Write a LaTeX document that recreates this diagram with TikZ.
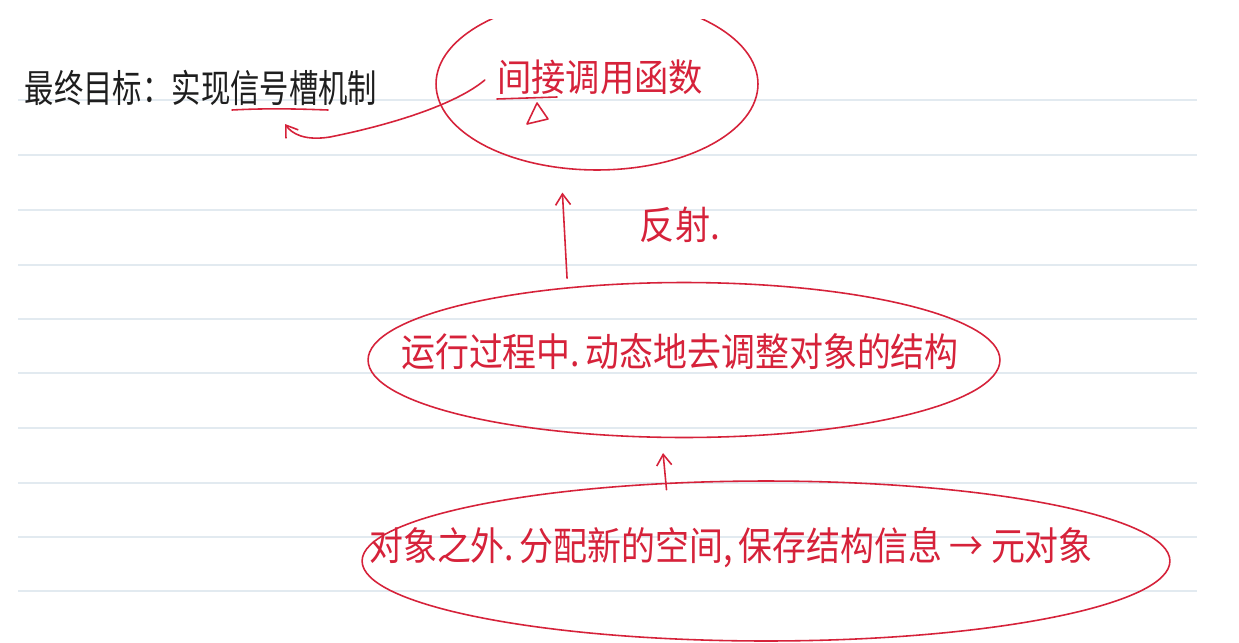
\documentclass[tikz,border=0pt]{standalone}
\usepackage{fontspec}
\newfontfamily\cjk{Noto Sans CJK SC}
\usetikzlibrary{arrows.meta,shapes.geometric}
\definecolor{ink}{RGB}{214,34,58}
\definecolor{pen}{RGB}{30,30,30}
\definecolor{ruleline}{RGB}{226,234,240}
\begin{document}
\begin{tikzpicture}[x=0.02cm,y=-0.02cm,
  redline/.style={draw=ink,line width=0.9pt,line cap=round,line join=round},
  oval/.style={ellipse,draw=ink,line width=0.9pt,inner sep=0pt},
  arr/.style={redline,-{Straight Barb[length=0.22cm,width=0.3cm]}},
  handtext/.style={font=\cjk,inner sep=0pt,anchor=center},
]
\useasboundingbox (0,0) rectangle (1239,642);
\fill[white] (0,0) rectangle (1239,642);
% ruled paper
\foreach \yy in {100,155,210,265,319,373,428,483,537,591}
  \draw[ruleline,line width=0.6pt] (18,\yy) -- (1197,\yy);

% title text
\node[handtext,text=pen,font=\cjk\fontsize{16.7}{18}\selectfont] (goal) at (201,88) {\scalebox{1}[1.3]{最终目标：实现信号槽机制}};
\draw[redline] (232,110) .. controls (270,108) and (300,109) .. (328,110);

% top ellipse
\begin{scope}
\clip (0,20) rectangle (1239,642);
\node[oval,minimum width=6.44cm,minimum height=3.44cm] (topE) at (597,84) {};
\end{scope}
\node[handtext,text=ink,font=\cjk\fontsize{19.5}{22}\selectfont] (topT) at (600,77) {\scalebox{1}[1.1]{间接调用函数}};
\draw[redline] (497,99) -- (557,97);
\draw[redline] (537,103) -- (527,124) -- (548,119) -- cycle;

% curved arrow back to the goal
\coordinate (tip) at (285,124);
\draw[arr] ([xshift=-0.24cm,yshift=-0.06cm]topT.west) .. controls (455,105) and (390,125) .. (330,137)
   .. controls (305,141) and (292,134) .. (tip);

% middle ellipse
\node[oval,minimum width=12.64cm,minimum height=3.1cm] (midE) at (684,360) {};
\node[handtext,text=ink,font=\cjk\fontsize{19.3}{22}\selectfont] (midT) at (680,352) {\scalebox{1}[1.15]{运行过程中.\,动态地去调整对象的结构}};

% bottom ellipse
\node[oval,minimum width=16.16cm,minimum height=3.2cm] (botE) at (766,561) {};
\node[handtext,text=ink,font=\cjk\fontsize{19.3}{22}\selectfont] (botT) at (731,548) {\scalebox{1}[1.15]{对象之外.\,分配新的空间,\,保存结构信息 → 元对象}};

% reflection label
\node[handtext,text=ink,font=\cjk\fontsize{20}{22}\selectfont] (refl) at (680,225) {\scalebox{1}[1.1]{反射.}};

% connectors
\draw[arr,shorten <=0.18cm,shorten >=0.48cm] (midE.148.7) -- (topE.247.9);
\draw[arr,shorten <=-0.14cm,shorten >=0.3cm] (botE.142.8) -- (midE.254.2);
\end{tikzpicture}
\end{document}
